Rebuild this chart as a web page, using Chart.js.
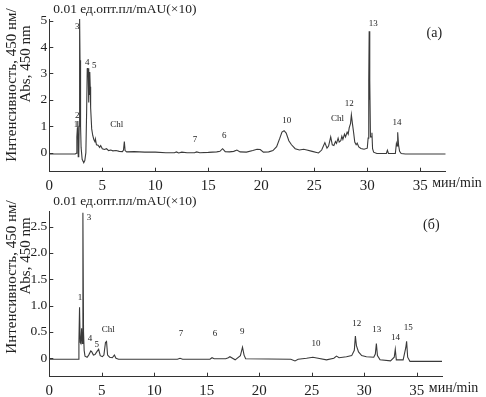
<!DOCTYPE html>
<html>
<head>
<meta charset="utf-8">
<script src="https://cdn.jsdelivr.net/npm/chart.js@4/dist/chart.umd.min.js"></script>
<style>
  html, body { margin: 0; padding: 0; background: #fff; }
  #wrap { position: relative; width: 486px; height: 397px; }
  #wrap canvas { position: absolute; left: 0; top: 0; }
</style>
</head>
<body>
<div id="wrap">
  <canvas id="chart-a" width="486" height="397"></canvas>
  <canvas id="chart-b" width="486" height="397"></canvas>
</div>
<script>
// --- panel (а): time (min) / intensity
const timeA = [0, 2.45, 2.55, 2.6, 2.65, 2.68, 2.7, 2.73, 2.78, 2.82, 2.86, 2.9, 2.95, 3.0, 3.1, 3.25, 3.35, 3.45,
  3.52, 3.58, 3.62, 3.66, 3.7, 3.74, 3.78, 3.82, 3.86, 3.9, 4.0, 4.1, 4.2, 4.3, 4.35, 4.45, 4.6, 4.75, 4.85, 5.0,
  5.2, 5.4, 5.6, 5.8, 6.0, 6.3, 6.6, 6.9, 7.0, 7.08, 7.15, 7.3, 8, 9, 10, 11, 11.8, 12.0, 12.2, 12.5, 13.0, 13.7,
  13.9, 14.2, 15.0, 15.8, 16.1, 16.35, 16.6, 17.0, 17.4, 17.7, 18.0, 18.6, 19.2, 19.6, 19.9, 20.2, 20.7, 21.1,
  21.45, 21.75, 21.95, 22.15, 22.35, 22.6, 22.85, 23.2, 23.6, 24.0, 24.3, 24.8, 25.4, 25.7, 26.0, 26.2, 26.35,
  26.55, 26.7, 26.85, 27.0, 27.1, 27.25, 27.35, 27.5, 27.6, 27.7, 27.85, 27.95, 28.1, 28.2, 28.3, 28.42, 28.5,
  28.6, 28.7, 28.82, 28.95, 29.05, 29.2, 29.4, 29.7, 30.0, 30.08, 30.14, 30.18, 30.22, 30.25, 30.3, 30.38, 30.44,
  30.5, 30.6, 30.9, 31.8, 31.9, 32.0, 32.65, 32.75, 32.82, 32.87, 32.95, 33.05, 33.2, 33.6, 37.4];
const intA = [-0.05, -0.05, -0.02, 0.6, 0.95, 0.5, 1.2, -0.15, -0.1, 1.0, 5.1, 3.5, 1.0, 0.2, -0.25, -0.38, -0.3, 0.0,
  1.5, 3.2, 2.9, 3.2, 1.9, 3.15, 2.2, 3.05, 2.5, 1.7, 0.9, 0.65, 0.5, 0.42, 0.52, 0.3, 0.28, 0.2, 0.27, 0.15,
  0.12, 0.15, 0.08, 0.1, 0.07, 0.08, 0.05, 0.04, 0.1, 0.42, 0.08, 0.03, 0.04, 0.02, 0.02, 0.0, 0.0, 0.03, -0.01, 0.02, 0.0, 0.0,
  0.03, 0.0, 0.01, 0.03, 0.05, 0.15, 0.04, 0.03, 0.05, 0.1, 0.03, 0.02, 0.08, 0.13, 0.12, 0.02, 0.03, 0.08,
  0.23, 0.55, 0.78, 0.83, 0.74, 0.45, 0.3, 0.15, 0.1, 0.13, 0.1, 0.05, -0.01, 0.1, 0.38, 0.17, 0.25,
  0.6, 0.3, 0.27, 0.42, 0.35, 0.55, 0.4, 0.45, 0.62, 0.5, 0.7, 0.6, 0.78, 0.7, 0.95, 1.1, 1.43,
  1.1, 0.8, 0.4, 0.3, 0.36, 0.22, 0.16, 0.13, 0.17, 0.55, 2.7, 4.6, 2.0, 2.75, 0.6, 0.6, 0.75,
  0.15, 0.02, -0.03, -0.03, 0.09, -0.03, -0.03, 0.35, 0.25, 0.77, 0.3, 0.05, -0.03, -0.05, -0.05];
const peakTextA = ['1', '2', '3', '4', '5', 'Chl', '7', '6', '10', 'Chl', '12', '13', '14'];
const peakXA = [2.52, 2.64, 2.64, 3.58, 4.25, 6.36, 13.75, 16.5, 22.4, 27.2, 28.3, 30.57, 32.8];
const peakYA = [1.05, 1.4, 4.77, 3.42, 3.3, 1.05, 0.48, 0.66, 1.21, 1.3, 1.87, 4.87, 1.15];
const yTicksA = [0, 1, 2, 3, 4, 5];

// --- panel (б)
const timeB = [0, 2.75, 2.82, 2.88, 2.94, 3.0, 3.08, 3.13, 3.2, 3.26, 3.32, 3.4, 3.6, 3.75, 3.95, 4.05, 4.2, 4.35,
  4.55, 4.7, 4.85, 5.05, 5.2, 5.35, 5.45, 5.55, 5.75, 6.0, 6.2, 6.35, 6.6, 12.2, 12.45, 12.7, 15.3, 15.5, 15.7,
  16.8, 17.05, 17.2, 17.7, 18.2, 18.4, 18.55, 18.7, 23.0, 23.4, 23.7, 24.5, 25.1, 25.6, 26.4, 27.1, 27.35, 27.6,
  28.3, 28.8, 29.05, 29.15, 29.25, 29.45, 29.75, 30.2, 30.9, 31.05, 31.15, 31.25, 31.5, 32.5, 32.85, 32.95,
  33.05, 33.7, 33.95, 34.03, 34.13, 34.35, 37.4];
const intB = [-0.02, -0.02, 0.3, 0.97, 0.3, 0.28, 0.57, 0.28, 2.76, 0.5, 0.15, 0.04, 0.02, 0.06, 0.14, 0.12, 0.06, 0.07,
  0.13, 0.17, 0.05, 0.03, 0.06, 0.3, 0.32, 0.06, 0.02, 0.01, 0.06, 0.0, -0.02, -0.02, 0.0, -0.02, -0.02, 0.01, -0.01,
  -0.01, 0.01, 0.03, -0.03, 0.05, 0.21, 0.06, -0.01, -0.02, -0.05, -0.02, 0.0, 0.02, 0.0, -0.03, 0.0, 0.04, 0.01,
  0.03, 0.05, 0.15, 0.42, 0.24, 0.12, 0.05, 0.03, 0.02, 0.08, 0.28, 0.05, -0.03, -0.05, 0.02, 0.17,
  -0.03, -0.03, 0.2, 0.32, 0.02, -0.06, -0.06];
const peakTextB = ['1', '3', '4', '5', 'Chl', '7', '6', '9', '10', '12', '13', '14', '15'];
const peakXB = [2.92, 3.78, 3.88, 4.51, 5.62, 12.54, 15.78, 18.38, 25.4, 29.28, 31.18, 32.96, 34.19];
const peakYB = [1.16, 2.66, 0.38, 0.25, 0.54, 0.46, 0.46, 0.5, 0.27, 0.65, 0.55, 0.39, 0.59];
const yTicksB = [0, 0.5, 1.0, 1.5, 2.0, 2.5];

const xTicks = [0, 5, 10, 15, 20, 25, 30, 35];
const SERIF = "'Liberation Serif', 'DejaVu Serif', serif";
const INK = '#222';

function makePanel(id, times, ints, yTicks, yMin, yMax, peakText, peakX, peakY, panelName, pad) {
  const annot = {
    id: 'annot',
    afterDraw(chart) {
      const { ctx, chartArea: a, scales: { x, y } } = chart;
      ctx.save();
      // inward tick marks
      ctx.strokeStyle = '#333'; ctx.lineWidth = 1;
      ctx.beginPath();
      x.ticks.forEach(t => {
        const px = Math.round(x.getPixelForValue(t.value)) + 0.5;
        ctx.moveTo(px, a.bottom); ctx.lineTo(px, a.bottom - 4);
      });
      y.ticks.forEach(t => {
        const py = Math.round(y.getPixelForValue(t.value)) + 0.5;
        ctx.moveTo(a.left, py); ctx.lineTo(a.left + 4, py);
      });
      ctx.stroke();

      ctx.fillStyle = INK;
      ctx.textAlign = 'center'; ctx.textBaseline = 'middle';
      // peak labels
      ctx.font = `9px ${SERIF}`;
      peakText.forEach((s, i) => ctx.fillText(s, x.getPixelForValue(peakX[i]), y.getPixelForValue(peakY[i])));
      // header, panel name, unit
      ctx.font = `13.5px ${SERIF}`;
      ctx.textAlign = 'left';
      ctx.fillText('0.01 ед.опт.пл/mAU(×10)', a.left + 4, a.top - 10);
      ctx.font = `14px ${SERIF}`;
      ctx.fillText('мин/min', x.getPixelForValue(35) + 12, a.bottom + 12);
      ctx.fillText(panelName, x.getPixelForValue(35.6), a.top + 14);
      // y title, two rotated lines
      ctx.font = `15px ${SERIF}`;
      ctx.textAlign = 'center';
      ctx.save();
      ctx.translate(12, a.top + 66); ctx.rotate(-Math.PI / 2);
      ctx.fillText('Интенсивность, 450 нм/', 0, 0);
      ctx.restore();
      ctx.save();
      ctx.translate(26, a.top + 45); ctx.rotate(-Math.PI / 2);
      ctx.fillText('Abs, 450 nm', 0, 0);
      ctx.restore();
      ctx.restore();
    }
  };

  return new Chart(document.getElementById(id), {
    type: 'line',
    data: {
      datasets: [{
        data: times.map((t, i) => ({ x: t, y: ints[i] })),
        borderColor: '#3a3a3a', borderWidth: 1.1, pointRadius: 0, tension: 0, fill: false
      }]
    },
    options: {
      responsive: false, animation: false,
      layout: { padding: pad },
      plugins: { legend: { display: false }, tooltip: { enabled: false } },
      scales: {
        x: {
          type: 'linear', min: 0, max: 37.4,
          afterBuildTicks: s => { s.ticks = xTicks.map(v => ({ value: v })); },
          afterFit: s => { s.height = 20; },
          grid: { display: false, drawTicks: false },
          border: { display: true, color: '#333', width: 1 },
          ticks: { color: INK, padding: 5, maxRotation: 0, font: { family: SERIF, size: 15 } }
        },
        y: {
          type: 'linear', min: yMin, max: yMax,
          afterBuildTicks: s => { s.ticks = yTicks.map(v => ({ value: v })); },
          afterFit: s => { s.width = 49.3; },
          grid: { display: false, drawTicks: false },
          border: { display: true, color: '#333', width: 1 },
          ticks: {
            color: INK, padding: 2, font: { family: SERIF, size: 13.5 },
            callback: v => yTicks.some(t => !Number.isInteger(t)) && v !== 0 ? v.toFixed(1) : String(v)
          }
        }
      }
    },
    plugins: [annot]
  });
}

makePanel('chart-a', timeA, intA, yTicksA, -0.72, 5.06, peakTextA, peakXA, peakYA, '(а)',
  { left: 0, top: 19, right: 40.3, bottom: 205.3 });
makePanel('chart-b', timeB, intB, yTicksB, -0.35, 2.795, peakTextB, peakXB, peakYB, '(б)',
  { left: 0, top: 211, right: 44, bottom: 0.3 });
</script>
</body>
</html>
